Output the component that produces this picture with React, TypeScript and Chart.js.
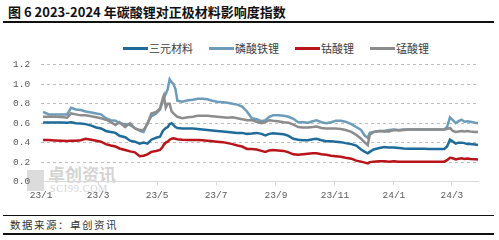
import React, { useEffect, useRef } from "react";
import { Chart, registerables } from "chart.js";

Chart.register(...registerables);

const dates = [
  "2023-01-03", "2023-01-09", "2023-01-15", "2023-01-22", "2023-01-28", "2023-02-01", "2023-02-06", "2023-02-11", "2023-02-16", "2023-02-22",
  "2023-02-27", "2023-03-04", "2023-03-09", "2023-03-14", "2023-03-19", "2023-03-23", "2023-03-29", "2023-04-03", "2023-04-08", "2023-04-13",
  "2023-04-17", "2023-04-21", "2023-04-25", "2023-04-30", "2023-05-04", "2023-05-07", "2023-05-08", "2023-05-10", "2023-05-12", "2023-05-14",
  "2023-05-16", "2023-05-18", "2023-05-20", "2023-05-22", "2023-05-27", "2023-06-02", "2023-06-07", "2023-06-12", "2023-06-17", "2023-06-22",
  "2023-06-27", "2023-07-02", "2023-07-08", "2023-07-13", "2023-07-18", "2023-07-23", "2023-07-28", "2023-08-02", "2023-08-07", "2023-08-12",
  "2023-08-17", "2023-08-21", "2023-08-25", "2023-08-29", "2023-09-03", "2023-09-09", "2023-09-14", "2023-09-19", "2023-09-24", "2023-09-29",
  "2023-10-04", "2023-10-09", "2023-10-13", "2023-10-18", "2023-10-23", "2023-10-28", "2023-11-02", "2023-11-07", "2023-11-12", "2023-11-18",
  "2023-11-23", "2023-11-28", "2023-12-02", "2023-12-05", "2023-12-07", "2023-12-11", "2023-12-17", "2023-12-22", "2023-12-27", "2024-01-01",
  "2024-01-06", "2024-01-11", "2024-01-16", "2024-01-22", "2024-01-27", "2024-02-01", "2024-02-06", "2024-02-11", "2024-02-16", "2024-02-22",
  "2024-02-25", "2024-02-28", "2024-03-02", "2024-03-05", "2024-03-08", "2024-03-11", "2024-03-14", "2024-03-17", "2024-03-20", "2024-03-25",
  "2024-03-28",
];

const sanyuan = [
  0.607, 0.607, 0.607, 0.607, 0.605, 0.61, 0.60, 0.597, 0.59, 0.575,
  0.555, 0.545, 0.52, 0.51, 0.50, 0.47, 0.455, 0.42, 0.41, 0.39,
  0.40, 0.39, 0.43, 0.45, 0.46, 0.52, 0.53, 0.55, 0.56, 0.59,
  0.60, 0.58, 0.56, 0.55, 0.545, 0.545, 0.545, 0.54, 0.535, 0.53,
  0.525, 0.52, 0.515, 0.51, 0.505, 0.50, 0.50, 0.49, 0.494, 0.50,
  0.49, 0.475, 0.49, 0.495, 0.49, 0.485, 0.47, 0.44, 0.43, 0.425,
  0.425, 0.435, 0.44, 0.425, 0.415, 0.415, 0.41, 0.405, 0.395, 0.385,
  0.37, 0.33, 0.305, 0.29, 0.305, 0.33, 0.345, 0.355, 0.35, 0.35,
  0.345, 0.34, 0.338, 0.338, 0.336, 0.336, 0.335, 0.335, 0.335, 0.335,
  0.36, 0.43, 0.41, 0.39, 0.40, 0.40, 0.395, 0.385, 0.385, 0.38, 0.375,
];

const lfp = [
  0.716, 0.69, 0.69, 0.69, 0.69, 0.757, 0.74, 0.735, 0.72, 0.71,
  0.70, 0.69, 0.65, 0.63, 0.625, 0.60, 0.59, 0.58, 0.55, 0.52,
  0.51, 0.60, 0.67, 0.70, 0.74, 0.83, 0.86, 0.90, 0.95, 1.05,
  1.02, 1.00, 0.95, 0.83, 0.82, 0.835, 0.84, 0.85, 0.85, 0.845,
  0.83, 0.82, 0.815, 0.81, 0.80, 0.79, 0.77, 0.72, 0.65, 0.64,
  0.62, 0.63, 0.665, 0.68, 0.68, 0.675, 0.665, 0.645, 0.61, 0.61,
  0.605, 0.62, 0.63, 0.61, 0.60, 0.61, 0.625, 0.625, 0.615, 0.59,
  0.56, 0.53, 0.47, 0.45, 0.50, 0.51, 0.52, 0.52, 0.53, 0.535,
  0.53, 0.535, 0.535, 0.535, 0.535, 0.535, 0.535, 0.535, 0.535, 0.535,
  0.56, 0.66, 0.63, 0.60, 0.62, 0.635, 0.615, 0.62, 0.615, 0.605, 0.60,
];

const lco = [
  0.426, 0.426, 0.423, 0.42, 0.416, 0.42, 0.42, 0.425, 0.44, 0.43,
  0.42, 0.41, 0.385, 0.37, 0.36, 0.34, 0.325, 0.31, 0.30, 0.26,
  0.265, 0.28, 0.305, 0.315, 0.325, 0.36, 0.38, 0.40, 0.41, 0.43,
  0.44, 0.445, 0.44, 0.435, 0.43, 0.428, 0.426, 0.426, 0.425, 0.42,
  0.415, 0.41, 0.405, 0.395, 0.385, 0.37, 0.36, 0.335, 0.334, 0.33,
  0.315, 0.305, 0.32, 0.325, 0.32, 0.315, 0.30, 0.28, 0.275, 0.28,
  0.285, 0.29, 0.29, 0.28, 0.275, 0.265, 0.26, 0.255, 0.245, 0.235,
  0.215, 0.205, 0.195, 0.187, 0.20, 0.205, 0.21, 0.21, 0.205, 0.208,
  0.205, 0.205, 0.205, 0.205, 0.205, 0.205, 0.205, 0.205, 0.205, 0.205,
  0.22, 0.245, 0.24, 0.228, 0.235, 0.24, 0.232, 0.238, 0.232, 0.23, 0.228,
];

const lmo = [
  0.665, 0.665, 0.665, 0.662, 0.655, 0.70, 0.69, 0.68, 0.68, 0.67,
  0.66, 0.65, 0.635, 0.61, 0.58, 0.61, 0.56, 0.60, 0.545, 0.53,
  0.53, 0.59, 0.70, 0.715, 0.75, 0.86, 0.885, 0.76, 0.80, 0.80,
  0.72, 0.70, 0.68, 0.665, 0.65, 0.66, 0.665, 0.675, 0.675, 0.675,
  0.67, 0.665, 0.66, 0.655, 0.66, 0.65, 0.64, 0.63, 0.63, 0.615,
  0.60, 0.61, 0.63, 0.625, 0.62, 0.61, 0.605, 0.585, 0.56, 0.555,
  0.555, 0.56, 0.565, 0.55, 0.545, 0.545, 0.545, 0.54, 0.53, 0.51,
  0.48, 0.44, 0.40, 0.375, 0.48, 0.51, 0.52, 0.515, 0.515, 0.53,
  0.525, 0.53, 0.535, 0.535, 0.535, 0.535, 0.535, 0.535, 0.535, 0.535,
  0.54, 0.55, 0.52, 0.51, 0.515, 0.52, 0.515, 0.52, 0.515, 0.51, 0.51,
];

const seriesNames = ["三元材料", "磷酸铁锂", "钴酸锂", "锰酸锂"];
const seriesValues = [sanyuan, lfp, lco, lmo];
const seriesColors = ["#1f6b99", "#6d9cba", "#b8141a", "#8c8c8c"];

const tickDates = ["2023-01-01", "2023-03-01", "2023-05-01", "2023-07-01", "2023-09-01", "2023-11-01", "2024-01-01", "2024-03-01"];
const tickLabels = ["23/1", "23/3", "23/5", "23/7", "23/9", "23/11", "24/1", "24/3"];

const titleText = "图 6 2023-2024 年碳酸锂对正极材料影响度指数";
const sourceText = "数据来源：卓创资讯";

const BASE = Date.UTC(2023, 0, 1);
const dayOf = (s: string) => (Date.parse(s + "T00:00:00Z") - BASE) / 86400000;

const tickFont = { family: "Liberation Mono", size: 9.5 };

export default function App() {
  const canvasRef = useRef<HTMLCanvasElement | null>(null);

  useEffect(() => {
    const canvas = canvasRef.current;
    if (!canvas) return;
    const xs = dates.map(dayOf);
    const tickVals = tickDates.map(dayOf);
    const chart = new Chart(canvas, {
      type: "line",
      data: {
        datasets: seriesNames.map((name, i) => ({
          label: name,
          data: seriesValues[i].map((v, j) => ({ x: xs[j], y: v })),
          borderColor: seriesColors[i],
          backgroundColor: seriesColors[i],
          borderWidth: 2.5,
          pointRadius: 0,
          tension: 0,
          order: 4 - i,
        })),
      },
      options: {
        animation: false,
        responsive: false,
        devicePixelRatio: 1,
        layout: { padding: { left: 2, right: 21, top: 2, bottom: 0 } },
        plugins: { legend: { display: false }, tooltip: { enabled: false } },
        scales: {
          x: {
            type: "linear",
            min: 0,
            max: xs[xs.length - 1],
            afterBuildTicks: (axis: any) => {
              axis.ticks = tickVals.map((v) => ({ value: v }));
            },
            ticks: {
              autoSkip: false,
              maxRotation: 0,
              color: "#595959",
              font: tickFont,
              padding: 4,
              callback: (v: any) => {
                const idx = tickVals.indexOf(Number(v));
                return idx >= 0 ? tickLabels[idx] : "";
              },
            },
            grid: { display: true, drawOnChartArea: false, drawTicks: true, tickLength: 4, color: "#d9d9d9" },
            border: { display: true, color: "#d9d9d9" },
          },
          y: {
            min: 0,
            max: 1.2,
            ticks: {
              stepSize: 0.2,
              color: "#595959",
              font: tickFont,
              padding: 11,
              callback: (v: any) => Number(v).toFixed(1),
            },
            grid: {
              drawTicks: false,
              color: (ctx: any) => (ctx.tick && ctx.tick.value === 0 ? "rgba(0,0,0,0)" : "#bdbdbd"),
              lineWidth: 1,
            },
            border: { display: false, dash: [3, 3] },
          },
        },
      },
    });
    return () => chart.destroy();
  }, []);

  return (
    <div style={{ position: "absolute", left: 0, top: 0, width: 499, height: 240, background: "#fff", overflow: "hidden" }}>
      <div
        style={{
          position: "absolute",
          left: 8,
          top: 4,
          fontFamily: "'Noto Sans CJK SC', sans-serif",
          fontWeight: 700,
          fontSize: 13,
          lineHeight: "16px",
          color: "#111",
          whiteSpace: "nowrap",
        }}
      >
        {titleText}
      </div>
      <div style={{ position: "absolute", left: 3, top: 21, width: 491, height: 2, background: "#111" }} />

      {/* legend */}
      <div style={{ position: "absolute", left: 123, top: 40, height: 16, display: "flex", alignItems: "center" }}>
        {seriesNames.map((n, i) => (
          <div key={n} style={{ display: "flex", alignItems: "center", marginRight: 16 }}>
            <div style={{ width: 25, height: 3, background: seriesColors[i], marginRight: 1 }} />
            <span
              style={{
                fontFamily: "'Noto Sans CJK SC', sans-serif",
                fontSize: 11,
                color: "#404040",
                whiteSpace: "nowrap",
              }}
            >
              {n}
            </span>
          </div>
        ))}
      </div>

      {/* watermark */}
      <div style={{ position: "absolute", left: 27, top: 170, width: 17, height: 21, background: "#dcdcdc" }} />
      <div
        style={{
          position: "absolute",
          left: 48,
          top: 161,
          fontFamily: "'Noto Sans CJK SC', sans-serif",
          fontWeight: 700,
          fontSize: 17,
          color: "#d4d4d4",
          whiteSpace: "nowrap",
        }}
      >
        卓创资讯
      </div>
      <div
        style={{
          position: "absolute",
          left: 50,
          top: 183,
          fontFamily: "'Liberation Serif', serif",
          fontSize: 10,
          letterSpacing: 0.8,
          color: "#d4d4d4",
          whiteSpace: "nowrap",
        }}
      >
        SCI99.COM
      </div>

      <canvas ref={canvasRef} width={499} height={157} style={{ position: "absolute", left: 0, top: 48, width: 499, height: 157 }} />

      <div style={{ position: "absolute", left: 3, top: 215, width: 491, height: 1, background: "#111" }} />
      <div
        style={{
          position: "absolute",
          left: 10,
          top: 217,
          fontFamily: "'Noto Sans CJK SC', sans-serif",
          fontSize: 10.5,
          lineHeight: "15px",
          letterSpacing: 1.5,
          color: "#333",
          whiteSpace: "nowrap",
        }}
      >
        {sourceText}
      </div>
      <div style={{ position: "absolute", left: 3, top: 233, width: 491, height: 2, background: "#111" }} />
    </div>
  );
}
